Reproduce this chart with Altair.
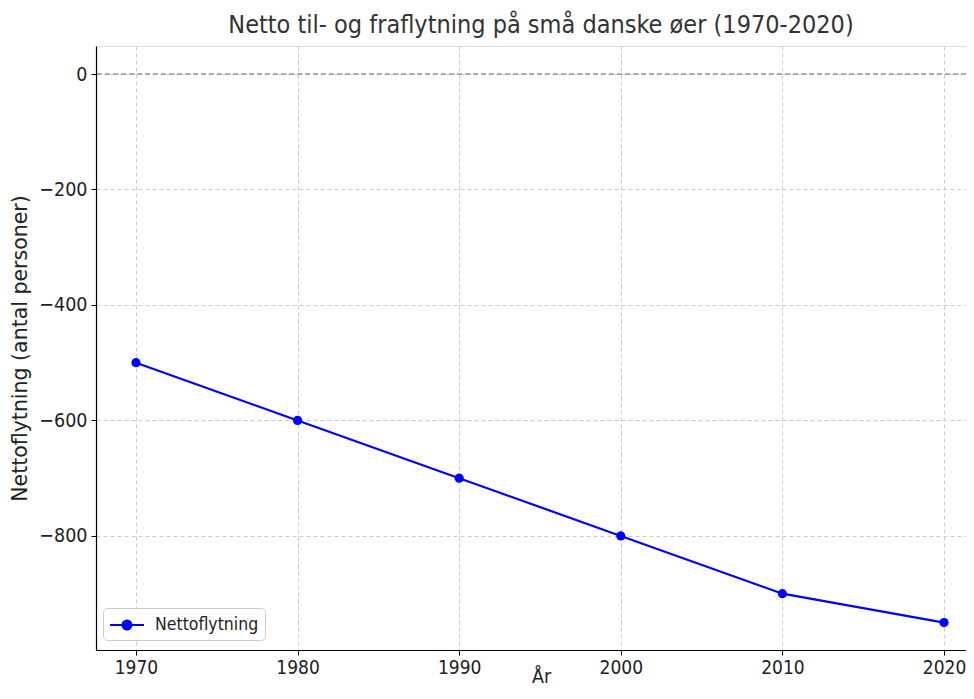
import altair as alt
import pandas as pd

years = [1970, 1980, 1990, 2000, 2010, 2020]
net = [-500, -600, -700, -800, -900, -950]
series = ["Nettoflytning"] * len(years)
x_ticks = [1970, 1980, 1990, 2000, 2010, 2020]
y_ticks = [0, -200, -400, -600, -800]

df = pd.DataFrame({"year": years, "net": net, "series": series})
zero = pd.DataFrame({"y": [0]})

FONT = "DejaVu Sans Condensed"
YDOM = [-997.5, 48.5]

x = alt.X("year:Q", title="År",
          scale=alt.Scale(domain=[1967.525, 2021.36], nice=False, zero=False),
          axis=alt.Axis(values=x_ticks, format="d", labelFont=FONT, labelFontSize=19,
                        titleFont=FONT, titleFontSize=19.5, titleFontWeight="normal",
                        labelColor="#222222", titleColor="#222222",
                        grid=True, gridDash=[4, 3], gridColor="#cccccc",
                        domainColor="#000000", domainWidth=1.2,
                        tickColor="#000000", tickSize=5, labelPadding=3,
                        titleBaseline="alphabetic", titleY=32, titleX=445))
y = alt.Y("net:Q", title="Nettoflytning (antal personer)",
          scale=alt.Scale(domain=YDOM, nice=False, zero=False),
          axis=alt.Axis(values=y_ticks, labelFont=FONT, labelFontSize=19.5,
                        titleFont="DejaVu Sans", titleFontSize=20.5, titleFontWeight="normal",
                        labelColor="#222222", titleColor="#222222",
                        grid=True, gridDash=[4, 3], gridColor="#cccccc",
                        domainColor="#000000", domainWidth=1.2,
                        tickColor="#000000", tickSize=5, labelPadding=4, titlePadding=8))

zero_rule = alt.Chart(zero).mark_rule(color="#6e6e6e", strokeDash=[5, 3], strokeWidth=1.2).encode(
    y=alt.Y("y:Q", scale=alt.Scale(domain=YDOM, nice=False, zero=False))
)

symbol_path = ("M-1,0 L2.4,0 M0.25,0 A0.45,0.45 0 1,1 1.15,0 "
               "A0.45,0.45 0 1,1 0.25,0 Z")

color = alt.Color("series:N", title=None,
                  scale=alt.Scale(domain=["Nettoflytning"], range=["#0000ff"]),
                  legend=alt.Legend(orient="none", legendX=7, legendY=562,
                                    symbolType=symbol_path, symbolSize=400,
                                    symbolStrokeWidth=2, symbolFillColor="#0000ff",
                                    labelFont=FONT, labelFontSize=17.5, labelColor="#222222",
                                    strokeColor="#cccccc", cornerRadius=4, fillColor="#ffffff",
                                    padding=6, labelOffset=24))

line = alt.Chart(df).mark_line(strokeWidth=2.2).encode(x=x, y=y, color=color)
points = alt.Chart(df).mark_circle(size=85, opacity=1).encode(
    x=x, y=y, color=alt.Color("series:N", scale=alt.Scale(domain=["Nettoflytning"], range=["#0000ff"]), legend=None))

chart = alt.layer(zero_rule, line, points).properties(
    width=870, height=604,
    title=alt.TitleParams("Netto til- og fraflytning på små danske øer (1970-2020)",
                          font=FONT, fontSize=25, fontWeight="normal", color="#333333",
                          anchor="middle", offset=8, dx=10),
    autosize=alt.AutoSizeParams(type="none"),
    padding={"left": 88, "top": 38, "right": 0, "bottom": 37},
).configure_view(stroke=None).configure(background="#ffffff")

chart.save("out.html", embed_options={"renderer": "svg", "actions": False})
